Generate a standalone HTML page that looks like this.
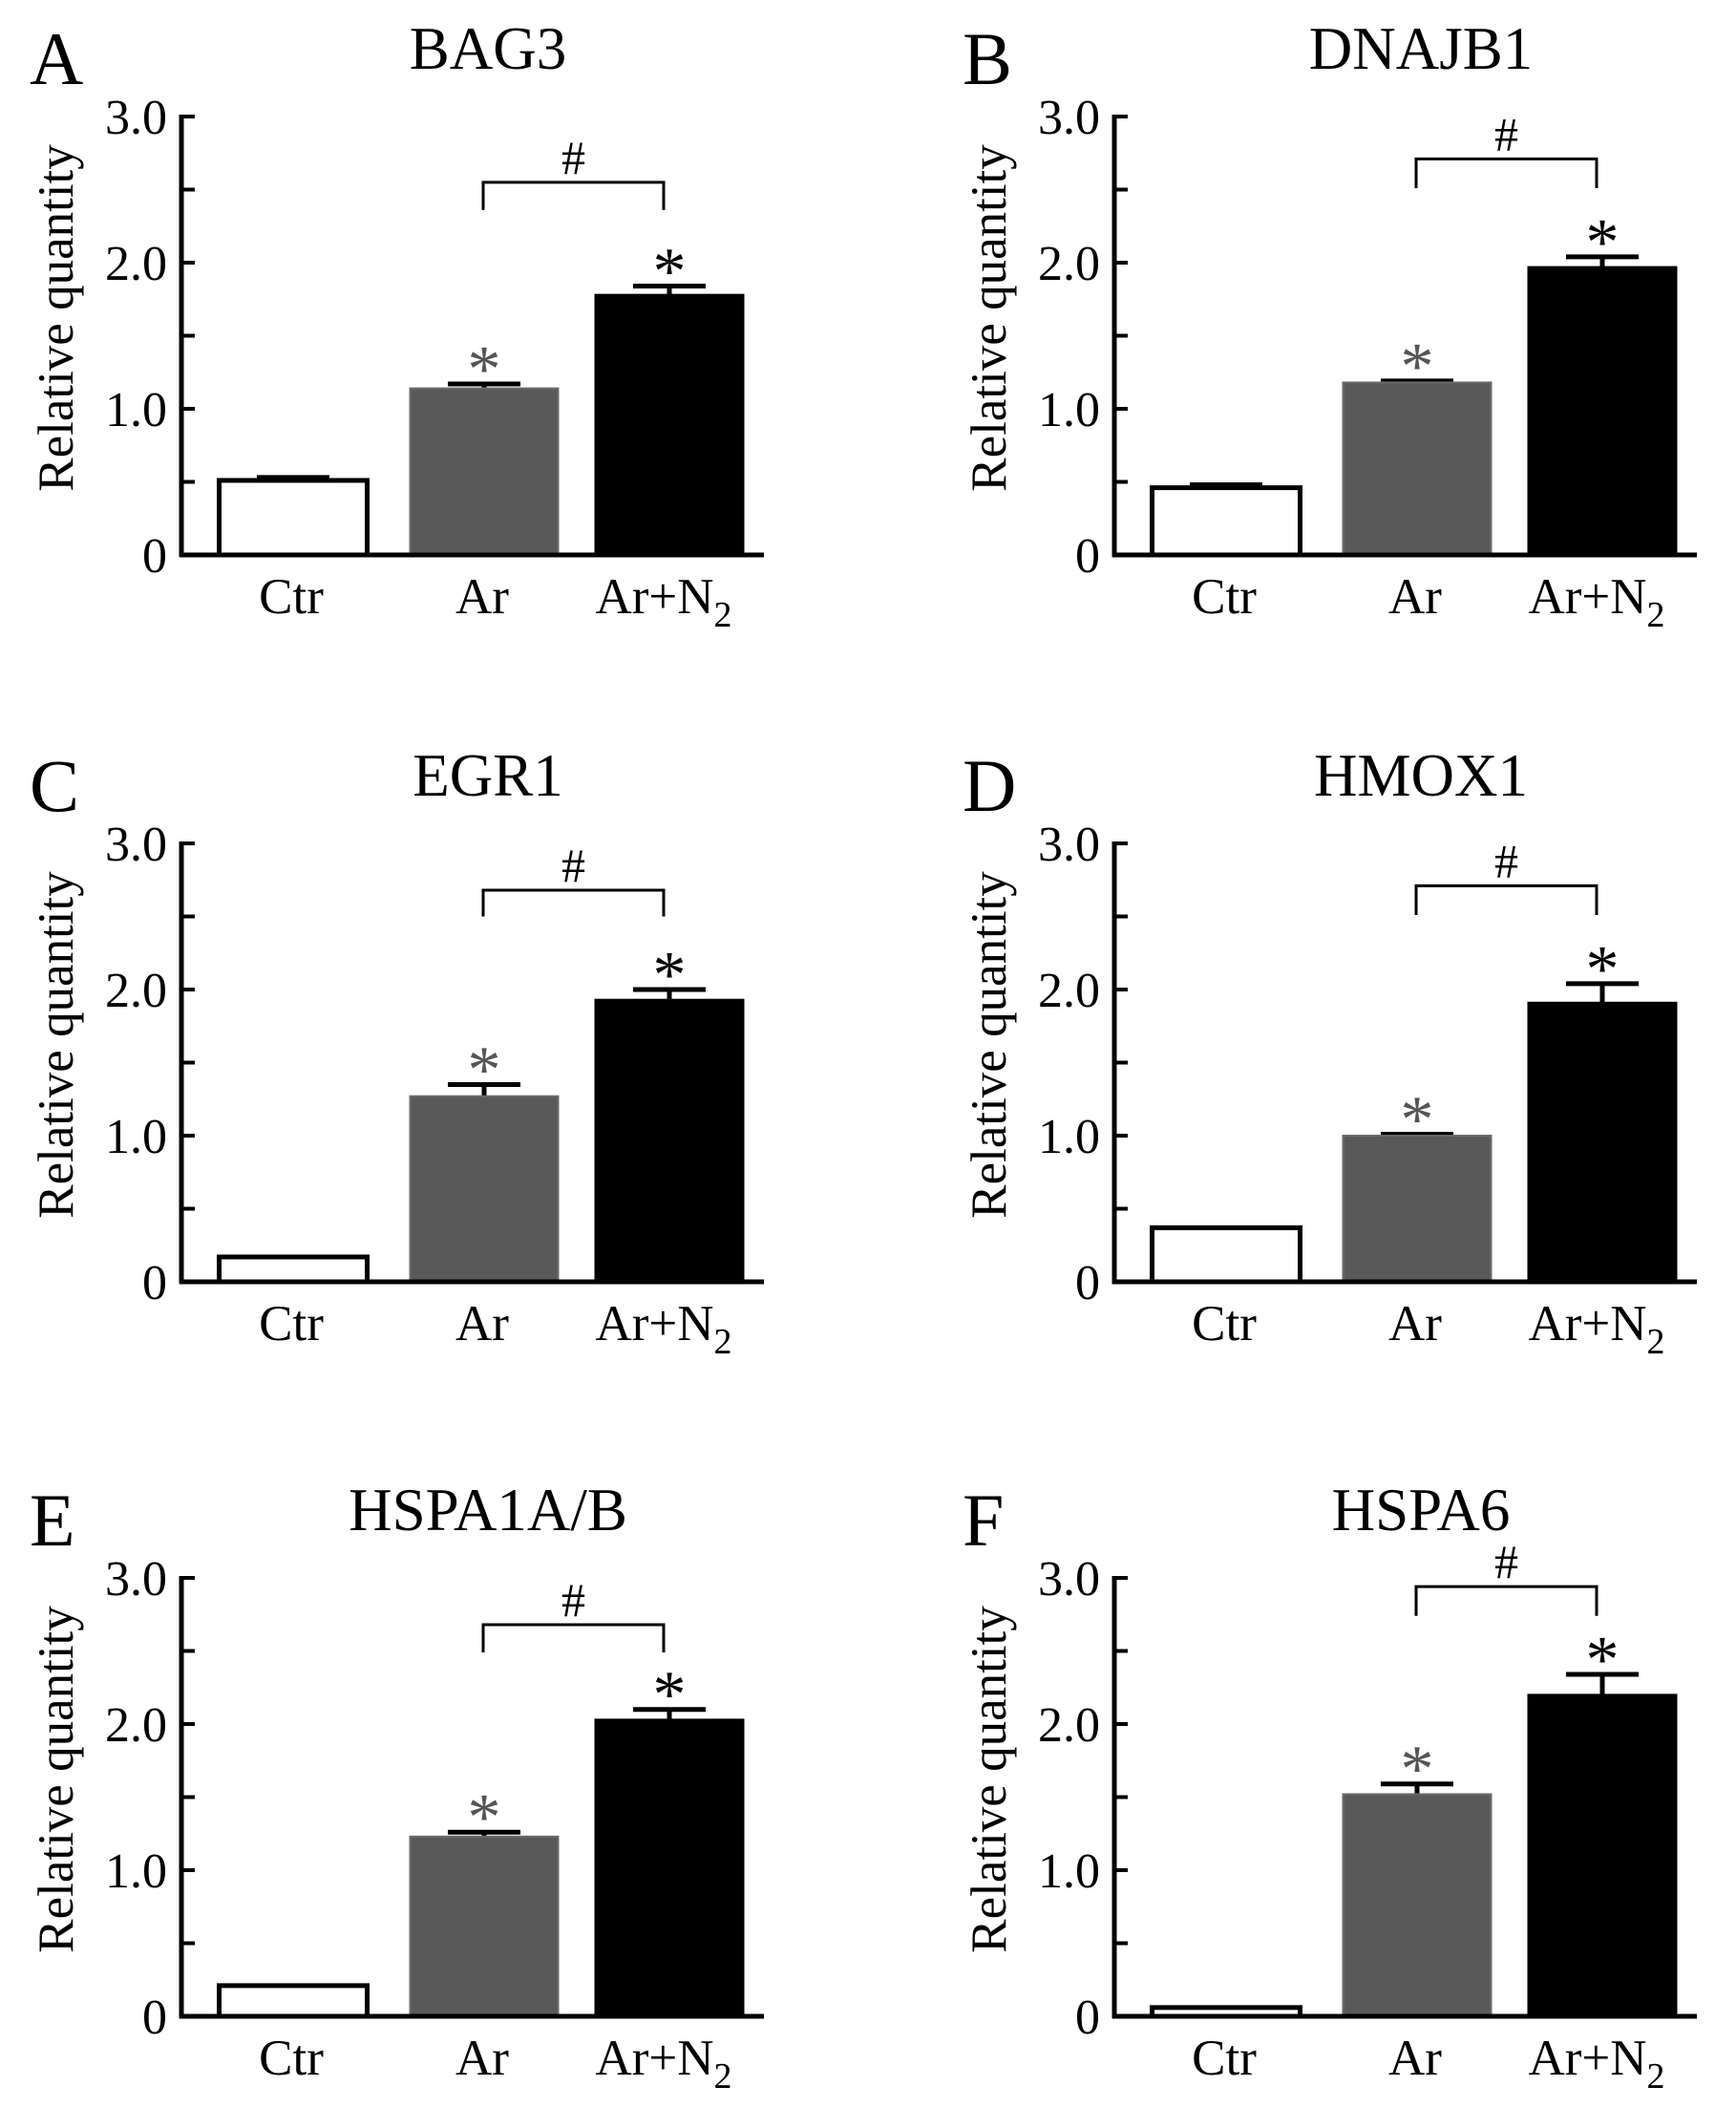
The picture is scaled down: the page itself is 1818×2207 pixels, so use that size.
<!DOCTYPE html>
<html><head><meta charset="utf-8"><style>
html,body{margin:0;padding:0;background:#fff}
svg{display:block;font-family:"Liberation Serif",serif}
</style></head><body>
<svg id="fig" width="1818" height="2207" viewBox="0 0 1818 2207" xmlns="http://www.w3.org/2000/svg"></svg>
<script>
const panelLetters = ["A","B","C","D","E","F"];
const panelTitles = ["BAG3","DNAJB1","EGR1","HMOX1","HSPA1A/B","HSPA6"];
const categories = ["Ctr","Ar","Ar+N2"];
const meanA = [0.51,1.14,1.78], errA = [0.02,0.03,0.06];
const meanB = [0.46,1.18,1.97], errB = [0.02,0.01,0.07];
const meanC = [0.17,1.27,1.93], errC = [0.00,0.08,0.07];
const meanD = [0.37,1.00,1.91], errD = [0.00,0.01,0.13];
const meanE = [0.21,1.23,2.03], errE = [0.00,0.03,0.07];
const meanF = [0.06,1.52,2.20], errF = [0.00,0.07,0.14];
const bracketTop = [2.55,2.71,2.68,2.71,2.68,2.94];
const bracketEnd = [2.36,2.51,2.50,2.51,2.49,2.74];
const yTicks = [0,0.5,1.0,1.5,2.0,2.5,3.0];
const yTickLabels = ["0","","1.0","","2.0","","3.0"];
const means = [meanA,meanB,meanC,meanD,meanE,meanF];
const errs = [errA,errB,errC,errD,errE,errF];

const NS="http://www.w3.org/2000/svg";
const svg=document.getElementById('fig');
function mk(tag,attrs,parent){const e=document.createElementNS(NS,tag);for(const k in attrs)e.setAttribute(k,attrs[k]);(parent||svg).appendChild(e);return e;}
const UNIT=153, AXIS_W=610;
const barCenters=[117,317,511], BAR_W=155;
const fills=["#ffffff","#595959","#000000"];
const colOff=[0,977], rowOff=[0,761,1530];

for(let p=0;p<6;p++){
  const x0=190+colOff[p%2], y0=581+rowOff[Math.floor(p/2)];
  const ys=v=>y0-v*UNIT, xs=c=>x0+barCenters[c];
  const g=mk('g',{});
  
  
  let t=mk('text',{x:31+colOff[p%2],y:y0-493,'font-size':78},g);t.textContent=panelLetters[p];
  
  t=mk('text',{x:x0+321,y:y0-509,'font-size':63,'text-anchor':'middle'},g);t.textContent=panelTitles[p];
  
  t=mk('text',{x:0,y:0,'font-size':53,'text-anchor':'middle',transform:`translate(${x0-114},${y0-248}) rotate(-90)`},g);t.textContent="Relative quantity";
  
  for(let c=0;c<3;c++){
    const v=means[p][c], e=errs[p][c], cx=xs(c);
    if(e>0){
      mk('line',{x1:cx,x2:cx,y1:ys(v),y2:ys(v+e),stroke:'#000','stroke-width':5},g);
      const cap=mk('line',{x1:cx-38,x2:cx+38,y1:ys(v+e),y2:ys(v+e),stroke:'#000','stroke-width':5},g);
      
    }
    const r=mk('rect',{x:cx-BAR_W/2,y:ys(v),width:BAR_W,height:v*UNIT,fill:fills[c],stroke:c==0?'#000':(c==1?'#6a6a6a':'#000'),'stroke-width':c==0?5:2},g);
    
    
    if(c>0){
      const s=mk('text',{x:cx,y:ys(v+e)-31+0.55*70,'font-size':70,'text-anchor':'middle',fill:c==1?'#555':'#000'},g);s.textContent='*';
      
    }
    const lb=mk('text',{x:cx-(c==2?6:2),y:y0+61,'font-size':53,'text-anchor':'middle'},g);
    
    if(c==2){lb.appendChild(document.createTextNode('Ar+N'));const sub=mk('tspan',{'font-size':38,dy:14},lb);sub.textContent='2';}
    else lb.textContent=categories[c];
  }
  const ya=mk('line',{x1:x0,x2:x0,y1:ys(3)-2,y2:y0+2,stroke:'#000','stroke-width':5},g);
  
  const xa=mk('line',{x1:x0-2,x2:x0+AXIS_W,y1:y0,y2:y0,stroke:'#000','stroke-width':5},g);
  
  yTicks.forEach((v,i)=>{
    if(v>0) mk('line',{x1:x0,x2:x0+14,y1:ys(v),y2:ys(v),stroke:'#000','stroke-width':4},g);
    if(yTickLabels[i]){const tl=mk('text',{x:x0-15,y:ys(v)+18,'font-size':52,'text-anchor':'end'},g);tl.textContent=yTickLabels[i];
      }
  });
  const bx1=xs(1)-1, bx2=xs(2)-6;
  const br=mk('polyline',{points:`${bx1},${ys(bracketEnd[p])} ${bx1},${ys(bracketTop[p])} ${bx2},${ys(bracketTop[p])} ${bx2},${ys(bracketEnd[p])}`,fill:'none',stroke:'#000','stroke-width':3},g);
  
  const h=mk('text',{x:(bx1+bx2)/2,y:ys(bracketTop[p])-9,'font-size':50,'text-anchor':'middle'},g);h.textContent='#';
  
}
</script>
</body></html>
